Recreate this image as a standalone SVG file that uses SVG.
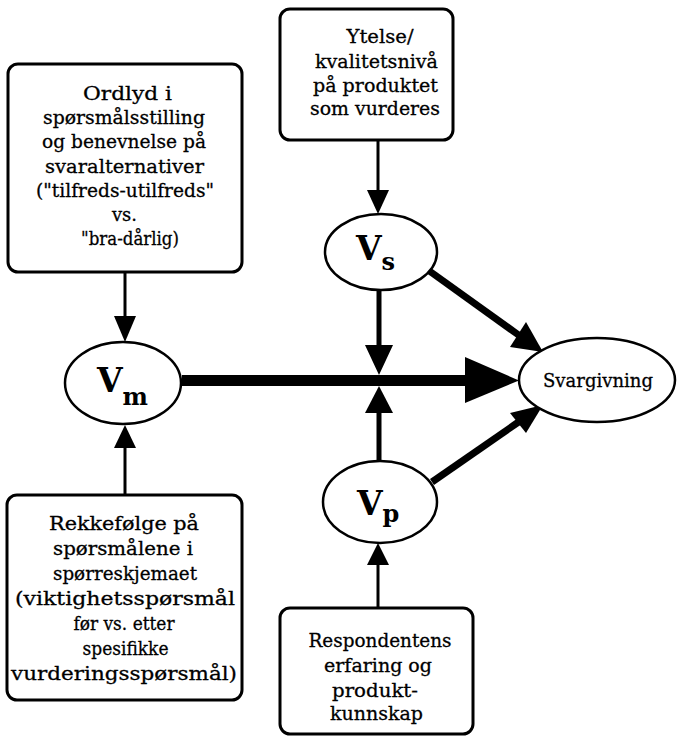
<svg xmlns="http://www.w3.org/2000/svg" width="679" height="739" viewBox="0 0 679 739">
<defs>
<style>
.box{fill:#fff;stroke:#000;stroke-width:3}
.ell{fill:#fff;stroke:#000;stroke-width:2.5}
.t{font-family:"DejaVu Serif","Liberation Serif",serif;font-size:19px;fill:#000;stroke:#000;stroke-width:0.3;text-anchor:middle}
.v{font-family:"DejaVu Serif","Liberation Serif",serif;font-weight:bold;fill:#000}
.c{stroke:#000;fill:none}
</style>
</defs>
<g id="connectors">
<line class="c" x1="125" y1="272" x2="125" y2="320" stroke-width="3"/>
<polygon points="114,316 136,316 125,342"/>
<line class="c" x1="125" y1="495" x2="125" y2="445" stroke-width="3"/>
<polygon points="114,448 136,448 125,425"/>
<line class="c" x1="378" y1="140" x2="378" y2="195" stroke-width="3"/>
<polygon points="367,190 389,190 378,214"/>
<line class="c" x1="379" y1="290" x2="379" y2="348" stroke-width="5"/>
<polygon points="365,345 393,345 379,375"/>
<line class="c" x1="379" y1="462" x2="379" y2="410" stroke-width="5"/>
<polygon points="365,413 393,413 379,386"/>
<line class="c" x1="378" y1="608" x2="378" y2="562" stroke-width="3"/>
<polygon points="367,565 389,565 378,543"/>
<line class="c" x1="182" y1="380.5" x2="470" y2="380.5" stroke-width="11"/>
<polygon points="465,357 465,403 519,380.5"/>
<line class="c" x1="428" y1="270" x2="520" y2="336" stroke-width="7"/>
<polygon points="510,347 526,322 543,352"/>
<line class="c" x1="432" y1="482" x2="520" y2="421" stroke-width="7"/>
<polygon points="510,413 526,433 543,405"/>
</g>
<g id="n-ordlyd">
<rect class="box" x="8" y="64" width="234" height="208" rx="10"/>
<text class="t" x="127.5" y="100" font-size="20.5" textLength="89" lengthAdjust="spacingAndGlyphs">Ordlyd i</text>
<text class="t" x="124" y="124" font-size="18.8" textLength="162" lengthAdjust="spacingAndGlyphs">spørsmålsstilling</text>
<text class="t" x="124" y="148" font-size="17.8" textLength="164" lengthAdjust="spacingAndGlyphs">og benevnelse på</text>
<text class="t" x="124.5" y="172.5" font-size="18.6" textLength="159" lengthAdjust="spacingAndGlyphs">svaralternativer</text>
<text class="t" x="125" y="197" font-size="18.6" textLength="178" lengthAdjust="spacingAndGlyphs">("tilfreds-utilfreds"</text>
<text class="t" x="124.5" y="220.5" font-size="18" textLength="25" lengthAdjust="spacingAndGlyphs">vs.</text>
<text class="t" x="130" y="245" font-size="17.5" textLength="98" lengthAdjust="spacingAndGlyphs">"bra-dårlig)</text>
</g>
<g id="n-ytelse">
<rect class="box" x="280" y="9" width="173" height="131" rx="10"/>
<text class="t" x="380" y="43" font-size="19.5" textLength="67" lengthAdjust="spacingAndGlyphs">Ytelse/</text>
<text class="t" x="376.5" y="68" textLength="123" lengthAdjust="spacingAndGlyphs">kvalitetsnivå</text>
<text class="t" x="375.5" y="92" textLength="125" lengthAdjust="spacingAndGlyphs">på produktet</text>
<text class="t" x="375" y="115" textLength="130" lengthAdjust="spacingAndGlyphs">som vurderes</text>
</g>
<g id="n-rekke">
<rect class="box" x="7" y="495" width="235" height="205" rx="10"/>
<text class="t" x="124" y="530" font-size="20.3" textLength="150" lengthAdjust="spacingAndGlyphs">Rekkefølge på</text>
<text class="t" x="123" y="555" font-size="19.6" textLength="140" lengthAdjust="spacingAndGlyphs">spørsmålene i</text>
<text class="t" x="125" y="580" font-size="18.6" textLength="144" lengthAdjust="spacingAndGlyphs">spørreskjemaet</text>
<text class="t" x="125" y="605" font-size="20.5" textLength="220" lengthAdjust="spacingAndGlyphs">(viktighetsspørsmål</text>
<text class="t" x="124" y="630" font-size="17.5" textLength="101" lengthAdjust="spacingAndGlyphs">før vs. etter</text>
<text class="t" x="125.5" y="655" font-size="17.5" textLength="86" lengthAdjust="spacingAndGlyphs">spesifikke</text>
<text class="t" x="124" y="680" font-size="20.5" textLength="226" lengthAdjust="spacingAndGlyphs">vurderingsspørsmål)</text>
</g>
<g id="n-resp">
<rect class="box" x="280" y="608" width="193" height="126" rx="10"/>
<text class="t" x="380" y="647" font-size="18.6" textLength="143" lengthAdjust="spacingAndGlyphs">Respondentens</text>
<text class="t" x="378" y="672" textLength="108" lengthAdjust="spacingAndGlyphs">erfaring og</text>
<text class="t" x="375" y="697" font-size="19.5" textLength="86" lengthAdjust="spacingAndGlyphs">produkt-</text>
<text class="t" x="376.5" y="720" textLength="93" lengthAdjust="spacingAndGlyphs">kunnskap</text>
</g>
<g id="n-vm">
<ellipse class="ell" cx="123" cy="383" rx="58" ry="41"/>
<text class="v" x="97" y="392"><tspan font-size="33">V</tspan><tspan font-size="24" dy="13">m</tspan></text>
</g>
<g id="n-vs">
<ellipse class="ell" cx="381" cy="252" rx="56" ry="38"/>
<text class="v" x="356" y="260"><tspan font-size="33">V</tspan><tspan font-size="24" dy="10">s</tspan></text>
</g>
<g id="n-vp">
<ellipse class="ell" cx="380" cy="502" rx="57" ry="41"/>
<text class="v" x="357" y="515"><tspan font-size="33">V</tspan><tspan font-size="24" dy="7">p</tspan></text>
</g>
<g id="n-svar">
<ellipse class="ell" cx="597" cy="380" rx="78" ry="42"/>
<text class="t" x="598" y="387" font-size="18.5" textLength="110" lengthAdjust="spacingAndGlyphs">Svargivning</text>
</g>
</svg>
